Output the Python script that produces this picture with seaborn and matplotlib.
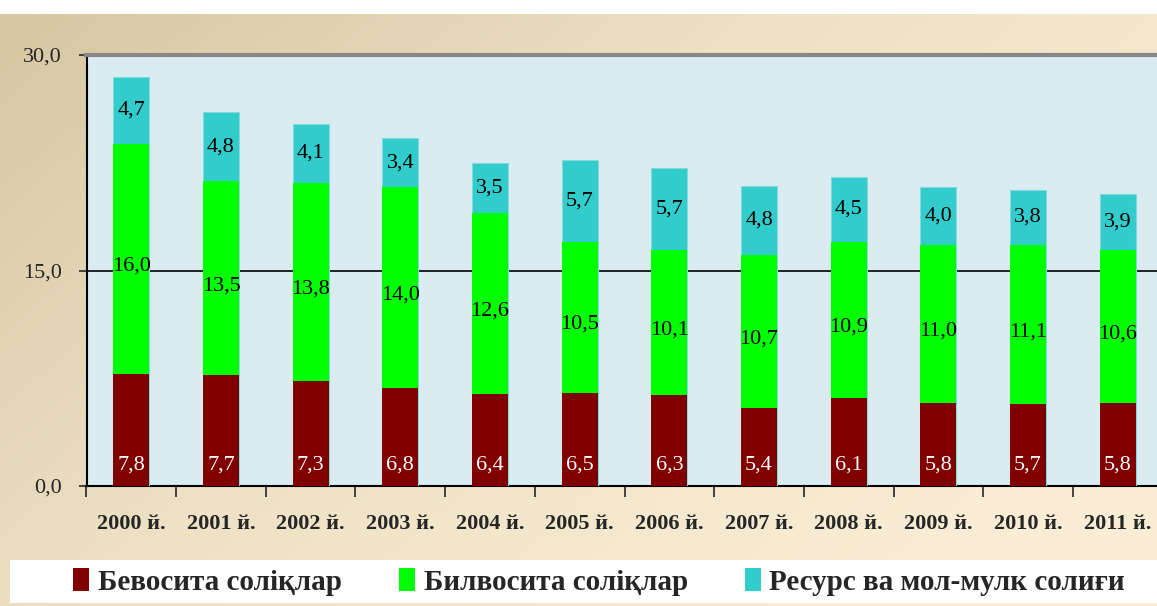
import numpy as np
import pandas as pd
import matplotlib
matplotlib.use("Agg")
import matplotlib.pyplot as plt
import seaborn as sns
from matplotlib.patches import Rectangle, Patch
from matplotlib.colors import LinearSegmentedColormap

years = ["2000 й.", "2001 й.", "2002 й.", "2003 й.", "2004 й.", "2005 й.",
         "2006 й.", "2007 й.", "2008 й.", "2009 й.", "2010 й.", "2011 й."]
direct = [7.8, 7.7, 7.3, 6.8, 6.4, 6.5, 6.3, 5.4, 6.1, 5.8, 5.7, 5.8]
indirect = [16.0, 13.5, 13.8, 14.0, 12.6, 10.5, 10.1, 10.7, 10.9, 11.0, 11.1, 10.6]
resource = [4.7, 4.8, 4.1, 3.4, 3.5, 5.7, 5.7, 4.8, 4.5, 4.0, 3.8, 3.9]
series_names = ["Бевосита соліқлар", "Билвосита соліқлар", "Ресурс ва мол-мулк солиғи"]
yticks = [0, 15, 30]

c_red, c_green, c_cyan = "#800000", "#00FF00", "#33CCCC"

df = pd.DataFrame({"year": years, "direct": direct, "indirect": indirect, "resource": resource})
df["lvl1"] = df["direct"]
df["lvl2"] = df["direct"] + df["indirect"]
df["lvl3"] = df["lvl2"] + df["resource"]

sns.set_style("white")
plt.rcParams["font.family"] = ["Liberation Serif", "DejaVu Serif"]

W, H = 1157, 606
fig = plt.figure(figsize=(W / 100, H / 100), dpi=100)

# background gradient
bg = fig.add_axes([0, 0, 1, 1 - 14 / H], zorder=-10)
gx, gy = np.meshgrid(np.linspace(0, 1, 300), np.linspace(0, 1, 150))
grad = np.clip(0.75 * gx + 0.45 * gy, 0, 1)
cmap = LinearSegmentedColormap.from_list("bg", ["#D6C6A2", "#EEE1C5", "#F8EDD4"])
bg.imshow(grad, cmap=cmap, aspect="auto", extent=[0, 1, 0, 1], origin="upper")
bg.axis("off")

# legend band
fig.patches.append(Rectangle((10 / W, 3 / H), 1, 43 / H, transform=fig.transFigure,
                             facecolor="white", edgecolor="none", zorder=-5))

ax = fig.add_axes([86.5 / W, 1 - 486 / H, 1076 / W, 431 / H])
ax.set_facecolor("#DAECF2")

sns.barplot(data=df, x="year", y="lvl3", color=c_cyan, width=0.4, ax=ax,
            saturation=1, edgecolor="#7FDCDC", linewidth=0.8, zorder=3)
sns.barplot(data=df, x="year", y="lvl2", color=c_green, width=0.4, ax=ax,
            saturation=1, linewidth=0, zorder=3)
sns.barplot(data=df, x="year", y="lvl1", color=c_red, width=0.4, ax=ax,
            saturation=1, linewidth=0, zorder=3)

fmt = lambda v: f"{v:.1f}".replace(".", ",")
for i, r in df.iterrows():
    ax.text(i, 1.45, fmt(r["direct"]), ha="center", va="center", color="white",
            fontsize=16, zorder=5)
    ax.text(i, r["lvl1"] + r["indirect"] / 2 - 0.5, fmt(r["indirect"]), ha="center",
            va="center", color="black", fontsize=16, zorder=5)
    ax.text(i, r["lvl2"] + r["resource"] / 2, fmt(r["resource"]), ha="center",
            va="center", color="black", fontsize=16, zorder=5)

ax.axhline(15, color="black", lw=1.2, zorder=2)
ax.set_xlim(-0.5, 11.5)
ax.set_ylim(0, 30)
ax.set_yticks(yticks)
ax.set_yticklabels([fmt(v) for v in yticks], fontsize=16)
ax.tick_params(axis="y", direction="out", length=6, width=1.2, pad=12, left=True)
ax.set_xticks(range(len(years)))
ax.set_xticklabels(years, fontsize=16, fontweight="bold")
ax.set_xticks(np.arange(-0.5, 11.6, 1), minor=True)
ax.tick_params(axis="x", which="major", length=0, pad=20)
ax.tick_params(axis="x", which="minor", direction="out", length=8, width=1.2, bottom=True)
ax.set_xlabel("")
ax.set_ylabel("")
for s in ["left", "bottom"]:
    ax.spines[s].set_color("black")
    ax.spines[s].set_linewidth(1.5)
ax.spines["top"].set_color("#888888")
ax.spines["top"].set_linewidth(3)
ax.spines["right"].set_visible(False)

handles = [Patch(facecolor=c, edgecolor="none") for c in (c_red, c_green, c_cyan)]
fig.legend(handles, series_names, loc="center left", bbox_to_anchor=(47 / W, 1 - 582 / H),
           ncol=3, frameon=False, handlelength=0.55, handleheight=0.8, handletextpad=0.3,
           columnspacing=1.95, prop={"family": "Liberation Serif", "weight": "bold", "size": 21})

fig.savefig("out.png", dpi=100)
